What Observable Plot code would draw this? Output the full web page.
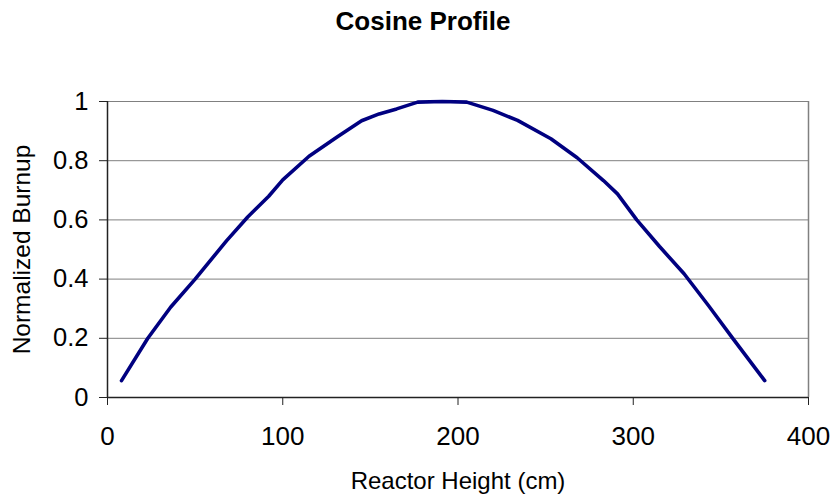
<!DOCTYPE html>
<html>
<head>
<meta charset="utf-8">
<script src="https://cdn.jsdelivr.net/npm/d3@7"></script>
<script src="https://cdn.jsdelivr.net/npm/@observablehq/plot@0.6"></script>
<style>
  body { margin: 0; background: #fff; }
  svg { font-family: "Liberation Sans", Arial, sans-serif; }
</style>
</head>
<body>
<div id="chart"></div>
<script>
const heights = [8, 23, 36, 50, 68, 80, 92, 100, 115, 131, 145, 155, 165, 177, 191, 205, 220, 234, 253, 268, 283, 291, 302, 315, 329, 343, 357, 375];
const burnup  = [0.057, 0.20, 0.305, 0.40, 0.53, 0.61, 0.68, 0.735, 0.815, 0.88, 0.935, 0.958, 0.975, 0.998, 1.0, 0.998, 0.97, 0.936, 0.874, 0.81, 0.733, 0.688, 0.60, 0.51, 0.418, 0.31, 0.198, 0.057];
const xTicks = [0, 100, 200, 300, 400];
const yTicks = [0, 0.2, 0.4, 0.6, 0.8, 1];
const title = "Cosine Profile";
const xLabel = "Reactor Height (cm)";
const yLabel = "Normalized Burnup";

const data = heights.map((h, i) => ({h, b: burnup[i]}));

const plot = Plot.plot({
  width: 834,
  height: 496,
  marginTop: 101,
  marginBottom: 99,
  marginLeft: 107,
  marginRight: 26,
  style: {fontFamily: "'Liberation Sans', Arial, sans-serif", background: "#fff"},
  x: {domain: [0, 400]},
  y: {domain: [0, 1]},
  marks: [
    Plot.ruleY(yTicks.filter(d => d > 0), {stroke: "#808080", strokeWidth: 1, strokeOpacity: 1}),
    Plot.ruleX([400], {stroke: "#808080", strokeWidth: 1.5}),
    Plot.axisY({ticks: yTicks, tickFormat: d => String(d), tickSize: 8, tickPadding: 11, fontSize: 25.5, label: null, stroke: "#222", color: "#000"}),
    Plot.axisX({ticks: xTicks, tickFormat: d => String(d), tickSize: 8, tickPadding: 21, fontSize: 26, label: null, stroke: "#222", color: "#000"}),
    Plot.ruleX([0], {stroke: "#222", strokeWidth: 1.5}),
    Plot.ruleY([0], {stroke: "#222", strokeWidth: 1.5}),
    Plot.line(data, {x: "h", y: "b", stroke: "#000080", strokeWidth: 3.6, strokeLinejoin: "round"}),
    Plot.text([title], {frameAnchor: "top", lineAnchor: "middle", textAnchor: "middle", dx: -35, dy: -80, text: d => d, fontSize: 26, fontWeight: "bold", fill: "#000"}),
    Plot.text([xLabel], {frameAnchor: "bottom", lineAnchor: "middle", textAnchor: "middle", dy: 84, text: d => d, fontSize: 24, fill: "#000"}),
    Plot.text([yLabel], {frameAnchor: "left", lineAnchor: "middle", textAnchor: "middle", dx: -85, rotate: -90, text: d => d, fontSize: 24.5, fill: "#000"})
  ]
});
document.getElementById("chart").appendChild(plot);
</script>
</body>
</html>
